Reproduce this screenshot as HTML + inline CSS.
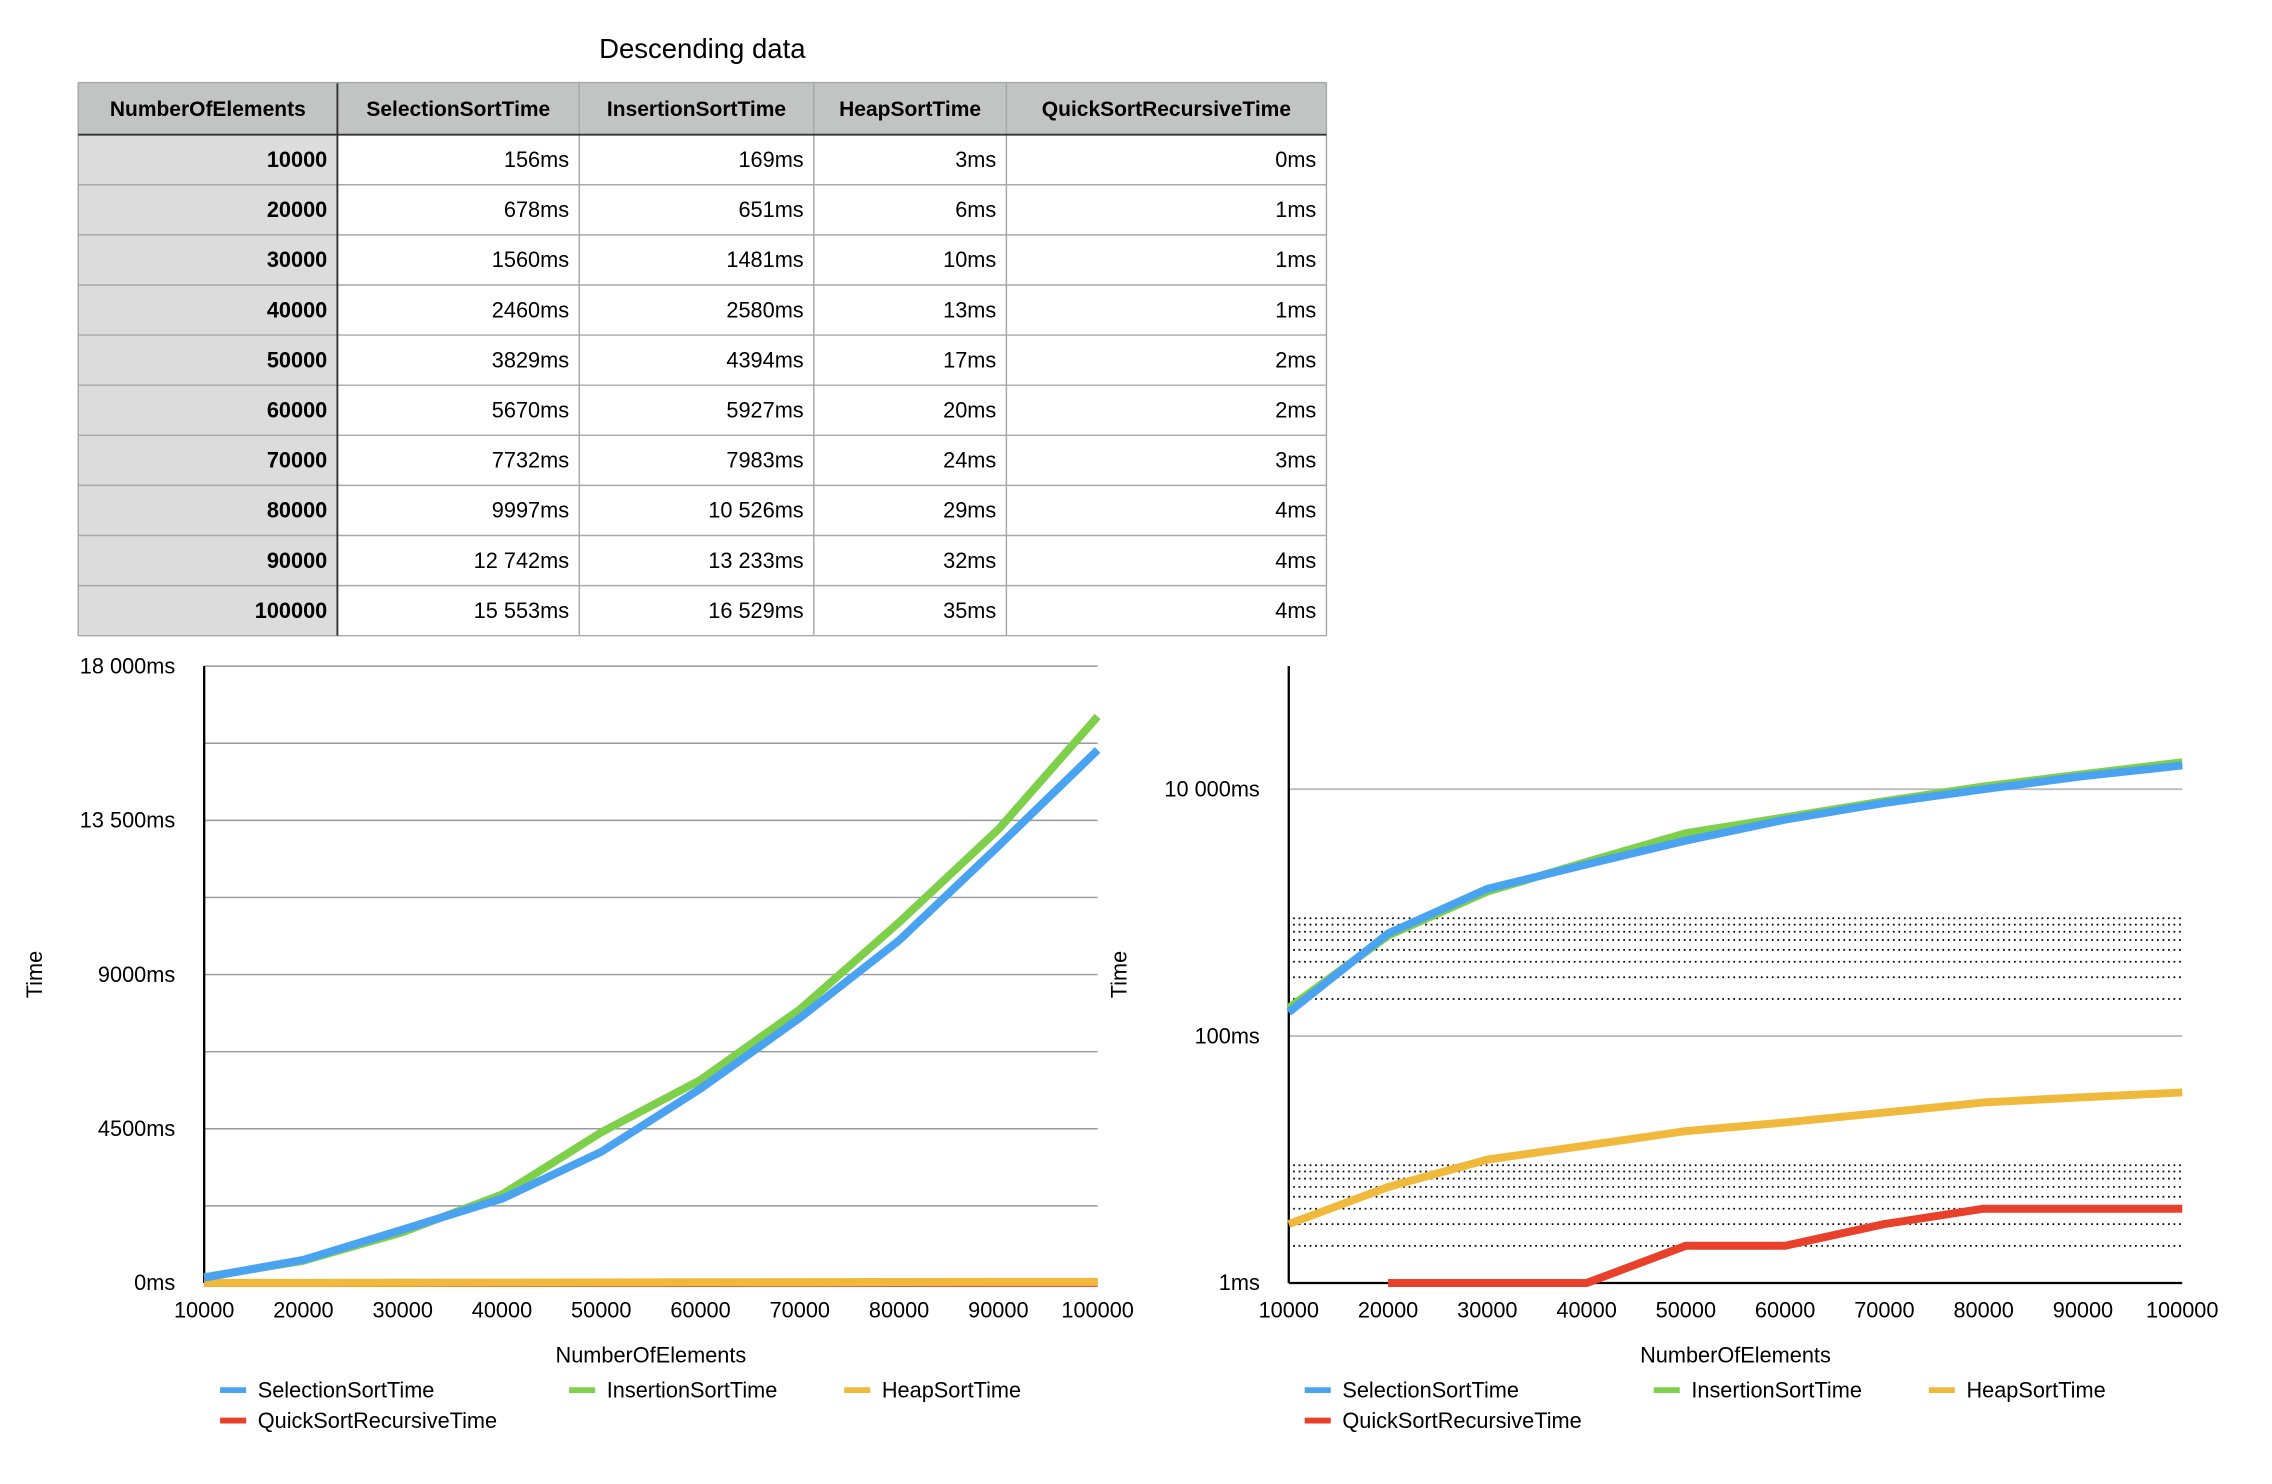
<!DOCTYPE html>
<html><head><meta charset="utf-8"><style>
html,body{margin:0;padding:0;background:#fff;}
svg{display:block;font-family:"Liberation Sans",Arial,sans-serif;}
</style></head><body>
<svg id="root" width="2272" height="1484" viewBox="0 0 1569 1024.8" preserveAspectRatio="none" xmlns="http://www.w3.org/2000/svg">
<text x="485" y="40" font-size="19" text-anchor="middle" fill="#000">Descending data</text>
<g id="tbl"></g>
<g id="c1"></g>
<g id="c2"></g>
</svg>
<script>
const categories=[10000,20000,30000,40000,50000,60000,70000,80000,90000,100000];
const selectionSort=[156,678,1560,2460,3829,5670,7732,9997,12742,15553];
const insertionSort=[169,651,1481,2580,4394,5927,7983,10526,13233,16529];
const heapSort=[3,6,10,13,17,20,24,29,32,35];
const quickSort=[0,1,1,1,2,2,3,4,4,4];
const seriesNames=["SelectionSortTime","InsertionSortTime","HeapSortTime","QuickSortRecursiveTime"];
const linearTicks=[0,4500,9000,13500,18000];
const linearTickLabels=["0ms","4500ms","9000ms","13 500ms","18 000ms"];
const logTicks=[1,100,10000];
const logTickLabels=["1ms","100ms","10 000ms"];

const NS="http://www.w3.org/2000/svg";
function mk(parent,tag,attrs,text){const e=document.createElementNS(NS,tag);for(const k in attrs)e.setAttribute(k,attrs[k]);if(text!==undefined)e.textContent=text;parent.appendChild(e);return e;}
function fmt(v){const s=String(v);return s.length>4?s.slice(0,s.length-3)+" "+s.slice(-3):s;}

const tbl=document.getElementById('tbl');
const colX=[54,233,400,562,695,916];
const headerY=57,headerH=36,rowH=34.6;
const bottom=headerY+headerH+rowH*categories.length;
mk(tbl,'rect',{x:54,y:headerY,width:862,height:headerH,fill:'#c2c4c3'});
mk(tbl,'rect',{x:54,y:headerY+headerH,width:179,height:rowH*categories.length,fill:'#dcdcdc'});
const heads=["NumberOfElements"].concat(seriesNames);
heads.forEach((h,i)=>{
  const t=mk(tbl,'text',{x:(colX[i]+colX[i+1])/2,y:headerY+headerH/2+5,'font-size':14.5,'font-weight':'bold','text-anchor':'middle'},h);
  
  
});
const cols=[categories,selectionSort,insertionSort,heapSort,quickSort];
categories.forEach((c,r)=>{
  const y=headerY+headerH+rowH*r;
  mk(tbl,'line',{x1:54,x2:916,y1:y+rowH,y2:y+rowH,stroke:'#a8a8a8','stroke-width':1});
  cols.forEach((col,i)=>{
    const txt=i===0?String(col[r]):fmt(col[r])+"ms";
    const t=mk(tbl,'text',{x:colX[i+1]-7,y:y+rowH/2+5,'font-size':15,'text-anchor':'end','font-weight':i===0?'bold':'normal'},txt);
    
    
  });
});
colX.forEach((x,i)=>{mk(tbl,'line',{x1:x,x2:x,y1:headerY,y2:bottom,stroke:i===1?'#333':'#a8a8a8','stroke-width':i===1?1.3:1});});
mk(tbl,'line',{x1:54,x2:916,y1:headerY,y2:headerY,stroke:'#a8a8a8'});
mk(tbl,'line',{x1:54,x2:916,y1:headerY+headerH,y2:headerY+headerH,stroke:'#333','stroke-width':1.3});

const colors=["#4aa3f0","#7ed04b","#f0b93c","#e8402a"];
const allSeries=[selectionSort,insertionSort,heapSort,quickSort];
const drawOrder=[3,2,1,0];

function chart(g,x0,log){
  const L=x0,R=x0+617,T=460,B=886;
  const xs=v=>L+(v-categories[0])/(categories[categories.length-1]-categories[0])*(R-L);
  const ys=log?(v=>B-85.25*Math.log10(v)):(v=>B-v/18000*(B-T));
  if(log){
    [1,100].forEach(base=>{for(let k=2;k<=9;k++){const y=ys(base*k);const l=mk(g,'line',{x1:L+3,x2:R,y1:y,y2:y,stroke:'#000','stroke-width':1.2,'stroke-dasharray':'1.2 2.6'});
      
      }});
    logTicks.forEach((t,i)=>{const y=ys(t);
      if(i>0){const l=mk(g,'line',{x1:L,x2:R,y1:y,y2:y,stroke:'#bbb','stroke-width':1.3});
        
        }
      const tx=mk(g,'text',{x:L-20,y:y+5,'font-size':15,'text-anchor':'end'},logTickLabels[i]);
      
      });
  } else {
    for(let v=2250;v<=18000;v+=2250){const y=ys(v);const l=mk(g,'line',{x1:L,x2:R,y1:y,y2:y,stroke:'#999','stroke-width':1});
      
      }
    linearTicks.forEach((t,i)=>{const y=ys(t);
      const tx=mk(g,'text',{x:L-20,y:y+5,'font-size':15,'text-anchor':'end'},linearTickLabels[i]);
      
      });
  }
  categories.forEach(c=>{const tx=mk(g,'text',{x:xs(c),y:910,'font-size':15,'text-anchor':'middle'},String(c));
    
    });
  const ya=mk(g,'line',{x1:L,x2:L,y1:T,y2:B,stroke:'#000','stroke-width':1.6});
  
  
  const xa=mk(g,'line',{x1:L,x2:R,y1:B,y2:B,stroke:'#000','stroke-width':1.6});
  
  
  drawOrder.forEach(si=>{
    const pts=[];allSeries[si].forEach((v,i)=>{if(log&&v<=0)return;pts.push(xs(categories[i]).toFixed(1)+','+ys(v).toFixed(1));});
    const p=mk(g,'polyline',{points:pts.join(' '),fill:'none',stroke:colors[si],'stroke-width':5.5,'stroke-linejoin':'round'});
    
    
  });
  const xt=mk(g,'text',{x:(L+R)/2,y:941,'font-size':15,'text-anchor':'middle'},'NumberOfElements');
  
  
  const yt=mk(g,'text',{x:0,y:0,'font-size':15,'text-anchor':'middle',transform:`translate(${L-112},673) rotate(-90)`},'Time');
  
  
  const lx=[L+11,L+252,L+442,L+11],ly=[960,960,960,981];
  seriesNames.forEach((n,i)=>{
    const e=mk(g,'g',{});
    
    
    mk(e,'line',{x1:lx[i],x2:lx[i]+18,y1:ly[i],y2:ly[i],stroke:colors[i],'stroke-width':4});
    mk(e,'text',{x:lx[i]+26,y:ly[i]+5,'font-size':15},n);
  });
}
chart(document.getElementById('c1'),141,false);
chart(document.getElementById('c2'),890,true);
</script>
</body></html>
